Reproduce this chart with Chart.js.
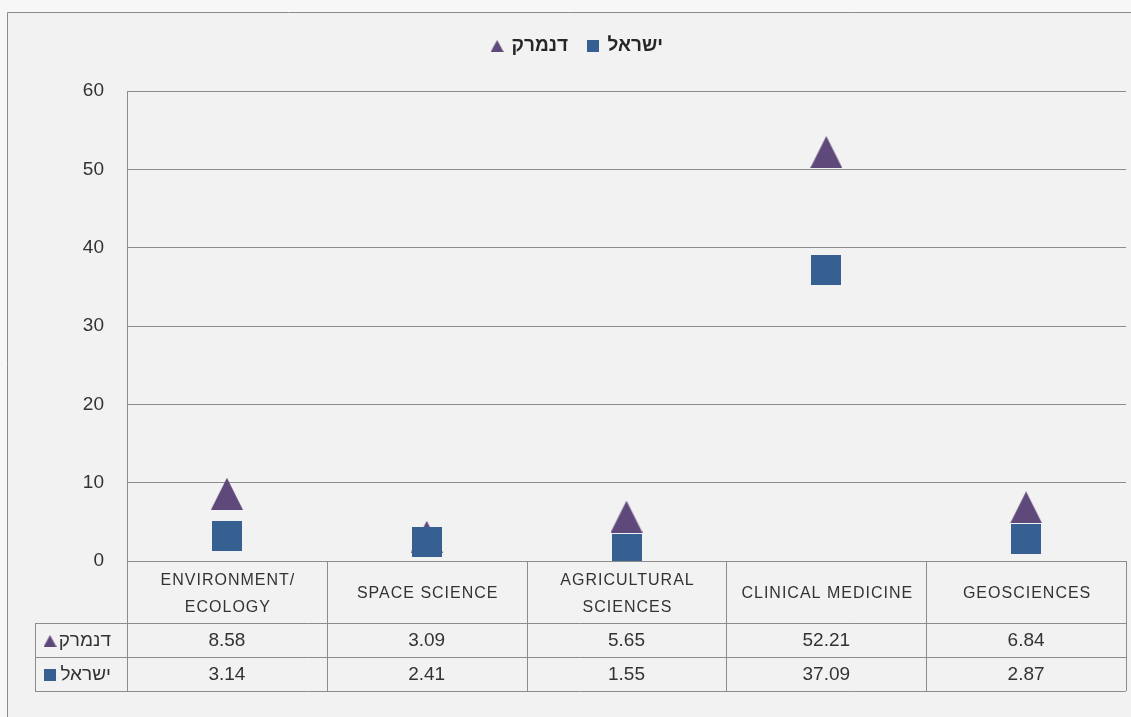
<!DOCTYPE html>
<html>
<head>
<meta charset="utf-8">
<script src="https://cdn.jsdelivr.net/npm/chart.js@4/dist/chart.umd.min.js"></script>
<style>
  html, body { margin: 0; padding: 0; background: #f7f7f7; }
  canvas { display: block; }
</style>
</head>
<body>
<canvas id="chartFields" width="1131" height="717"></canvas>
<script>
// --- DATA ---
var categories = [
    ['ENVIRONMENT/', 'ECOLOGY'],
    ['SPACE SCIENCE'],
    ['AGRICULTURAL', 'SCIENCES'],
    ['CLINICAL MEDICINE'],
    ['GEOSCIENCES']
];
var seriesNames = ['דנמרק', 'ישראל'];
var denmarkValues = [8.58, 3.09, 5.65, 52.21, 6.84];
var israelValues = [3.14, 2.41, 1.55, 37.09, 2.87];
var yTicks = [0, 10, 20, 30, 40, 50, 60];

var purple = '#5f497a';
var blue = '#376092';
var fontFamily = "'Liberation Sans', 'DejaVu Sans', sans-serif";

// marker images (Excel style: bounding box centred on the value)
function makeMarker(shape, w, h, color) {
    var c = document.createElement('canvas');
    c.width = w;
    c.height = h;
    var g = c.getContext('2d');
    g.fillStyle = color;
    g.beginPath();
    if (shape === 'triangle') {
        g.moveTo(w / 2, 0);
        g.lineTo(w, h);
        g.lineTo(0, h);
        g.closePath();
    } else {
        g.rect(0, 0, w, h);
    }
    g.fill();
    return c;
}

var pointMarkers = [makeMarker('triangle', 32, 32, purple), makeMarker('square', 30, 30, blue)];
var smallMarkers = [makeMarker('triangle', 13, 12, purple), makeMarker('square', 12, 12, blue)];

// --- BACKGROUND FRAME ---
var framePlugin = {
    id: 'frame',
    beforeDraw: function(chart) {
        var ctx = chart.ctx;
        ctx.save();
        ctx.fillStyle = '#f7f7f7';
        ctx.fillRect(0, 0, chart.width, chart.height);
        ctx.fillStyle = '#f2f2f2';
        ctx.fillRect(7, 12, chart.width - 7, chart.height - 12);
        ctx.strokeStyle = '#8c8c8c';
        ctx.lineWidth = 1;
        ctx.beginPath();
        ctx.moveTo(7.5, chart.height);
        ctx.lineTo(7.5, 12.5);
        ctx.lineTo(chart.width, 12.5);
        ctx.stroke();
        ctx.restore();
    }
};

// --- DATA TABLE UNDER THE PLOT ---
var dataTablePlugin = {
    id: 'dataTable',
    afterDraw: function(chart) {
        var ctx = chart.ctx;
        var xScale = chart.scales.x;
        var area = chart.chartArea;
        var colW = (area.right - area.left) / categories.length;
        var top = area.bottom;
        var headBottom = top + 62;
        var rowH = 34;
        var tableBottom = headBottom + rowH * 2;
        var labelLeft = 35;
        var rows = [denmarkValues, israelValues];

        function px(v) { return Math.round(v) + 0.5; }

        ctx.save();
        ctx.strokeStyle = '#8c8c8c';
        ctx.lineWidth = 1;
        ctx.beginPath();
        for (var r = 0; r <= 2; r++) {
            var yy = px(headBottom + r * rowH);
            ctx.moveTo(labelLeft, yy);
            ctx.lineTo(area.right, yy);
        }
        ctx.moveTo(px(labelLeft), headBottom);
        ctx.lineTo(px(labelLeft), tableBottom);
        for (var i = 0; i <= categories.length; i++) {
            var bx = i < categories.length ? xScale.getPixelForValue(i) - colW / 2 : xScale.getPixelForValue(i - 1) + colW / 2;
            ctx.moveTo(px(bx), top);
            ctx.lineTo(px(bx), tableBottom);
        }
        ctx.stroke();

        // header labels
        ctx.fillStyle = '#333333';
        ctx.textAlign = 'center';
        ctx.textBaseline = 'middle';
        ctx.font = '16px ' + fontFamily;
        ctx.letterSpacing = '1px';
        var headMid = (top + headBottom) / 2 + 2;
        categories.forEach(function(lines, i) {
            var cx = xScale.getPixelForValue(i);
            lines.forEach(function(line, k) {
                var ly = headMid + (k - (lines.length - 1) / 2) * 27;
                ctx.fillText(line, cx + 1, ly);
            });
        });
        ctx.letterSpacing = '0px';

        // values
        ctx.font = '19px ' + fontFamily;
        rows.forEach(function(vals, r) {
            var ry = headBottom + rowH * r + rowH / 2 + 1;
            vals.forEach(function(v, i) {
                ctx.fillText(v.toFixed(2), xScale.getPixelForValue(i), ry);
            });
            // row header: marker + series name
            ctx.textAlign = 'right';
            ctx.fillText(seriesNames[r], area.left - 16, ry);
            ctx.textAlign = 'center';
            var m = smallMarkers[r];
            ctx.drawImage(m, 50 - m.width / 2, Math.round(ry - m.height / 2));
        });
        ctx.restore();
    }
};

// --- CHART ---
var ctxFields = document.getElementById('chartFields').getContext('2d');
new Chart(ctxFields, {
    type: 'line',
    data: {
        labels: categories,
        datasets: [
            {
                label: seriesNames[0],
                data: denmarkValues,
                showLine: false,
                pointStyle: pointMarkers[0],
                pointRadius: 16,
                backgroundColor: purple,
                borderColor: purple,
                order: 1
            },
            {
                label: seriesNames[1],
                data: israelValues,
                showLine: false,
                pointStyle: pointMarkers[1],
                pointRadius: 15,
                backgroundColor: blue,
                borderColor: blue,
                order: 0
            }
        ]
    },
    options: {
        responsive: false,
        animation: false,
        layout: {
            autoPadding: false,
            padding: { top: 16.5, left: 29, right: 5, bottom: 156 }
        },
        scales: {
            x: {
                type: 'category',
                offset: true,
                display: false
            },
            y: {
                type: 'linear',
                min: 0,
                max: 60,
                afterFit: function(scale) { scale.width = 98; },
                afterBuildTicks: function(axis) {
                    axis.ticks = yTicks.map(function(v) { return { value: v }; });
                },
                border: { display: true, color: '#8c8c8c', width: 1 },
                grid: { color: '#8c8c8c', lineWidth: 1, drawTicks: false },
                ticks: {
                    padding: 23,
                    color: '#333333',
                    font: { family: fontFamily, size: 19 }
                }
            }
        },
        plugins: {
            legend: {
                position: 'top',
                labels: {
                    usePointStyle: true,
                    pointStyleWidth: 10,
                    padding: 20,
                    color: '#262626',
                    font: { family: fontFamily, size: 19, weight: 'bold' },
                    generateLabels: function(chart) {
                        return chart.data.datasets.map(function(ds, i) {
                            return {
                                text: ds.label,
                                pointStyle: smallMarkers[i],
                                fillStyle: ds.backgroundColor,
                                strokeStyle: 'transparent',
                                lineWidth: 0,
                                hidden: false,
                                datasetIndex: i,
                                fontColor: '#262626'
                            };
                        });
                    }
                }
            },
            // empty spacer between the legend and the plot
            title: {
                display: true,
                text: '',
                weight: 0,
                padding: { top: 15.5, bottom: 0 },
                font: { size: 10, lineHeight: 1 }
            },
            tooltip: { enabled: false }
        }
    },
    plugins: [framePlugin, dataTablePlugin]
});
</script>
</body>
</html>
